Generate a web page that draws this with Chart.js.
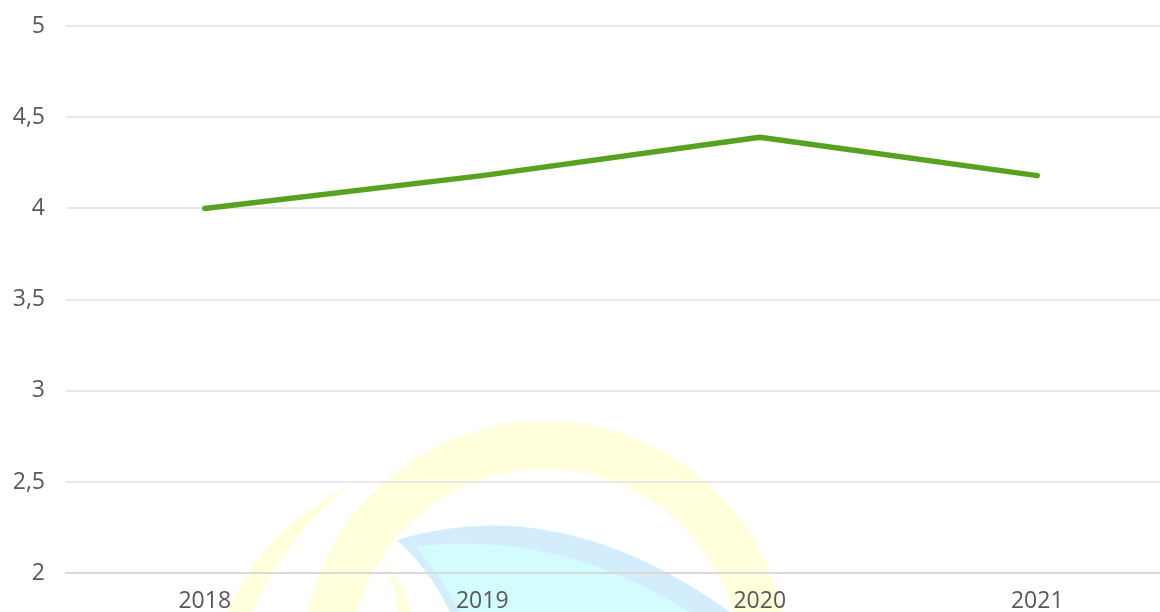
<!DOCTYPE html>
<html>
<head>
<meta charset="utf-8">
<script src="https://cdn.jsdelivr.net/npm/chart.js@4"></script>
<style>
    html, body { margin: 0; padding: 0; background: #fff; overflow: hidden; }
    #wrap { position: relative; width: 1176px; height: 629px; }
</style>
</head>
<body>
<div id="wrap"><canvas id="chart"></canvas></div>
<script>
// Chart data
const years = ['2018', '2019', '2020', '2021'];
const values = [4.0, 4.18, 4.39, 4.18];
const yTicks = [2, 2.5, 3, 3.5, 4, 4.5, 5];

// Faint logo behind the plot
const watermark = {
    id: 'watermark',
    beforeDraw(chart) {
        const ctx = chart.ctx;
        ctx.save();
        // big yellow ring
        ctx.fillStyle = 'rgba(255, 255, 205, 0.7)';
        ctx.beginPath();
        ctx.arc(545, 664, 243, 0, Math.PI * 2);
        ctx.arc(545, 664, 195, 0, Math.PI * 2, true);
        ctx.fill();
        // left yellow arc
        ctx.beginPath();
        ctx.moveTo(352, 484);
        ctx.quadraticCurveTo(260, 530, 228, 612);
        ctx.lineTo(252, 612);
        ctx.quadraticCurveTo(290, 530, 352, 484);
        ctx.fill();
        // small inner yellow stroke
        ctx.beginPath();
        ctx.moveTo(385, 563);
        ctx.quadraticCurveTo(405, 585, 410, 612);
        ctx.lineTo(398, 612);
        ctx.quadraticCurveTo(395, 585, 385, 563);
        ctx.fill();
        // blue leaf
        ctx.fillStyle = 'rgba(205, 234, 252, 0.85)';
        ctx.beginPath();
        ctx.moveTo(397, 540);
        ctx.quadraticCurveTo(560, 490, 730, 612);
        ctx.lineTo(450, 612);
        ctx.quadraticCurveTo(430, 570, 397, 540);
        ctx.fill();
        ctx.fillStyle = 'rgba(210, 255, 255, 0.85)';
        ctx.beginPath();
        ctx.moveTo(415, 546);
        ctx.quadraticCurveTo(560, 530, 690, 612);
        ctx.lineTo(460, 612);
        ctx.quadraticCurveTo(440, 575, 415, 546);
        ctx.fill();
        ctx.restore();
    }
};

document.addEventListener('DOMContentLoaded', function() {
    const ctx = document.getElementById('chart').getContext('2d');
    const tickFont = { family: '"Open Sans"', size: 23 };
    new Chart(ctx, {
        type: 'line',
        data: {
            labels: years,
            datasets: [{
                data: values,
                borderColor: '#58a21f',
                borderWidth: 5.5,
                borderCapStyle: 'round',
                borderJoinStyle: 'round',
                pointRadius: 0,
                tension: 0,
                fill: false
            }]
        },
        options: {
            responsive: true,
            maintainAspectRatio: false,
            animation: false,
            layout: { padding: { top: 26, left: 0, right: 0, bottom: 0 } },
            plugins: {
                legend: { display: false },
                tooltip: { enabled: false }
            },
            scales: {
                x: {
                    offset: true,
                    grid: { display: false, drawTicks: false },
                    border: { color: '#d9d9d9', width: 2 },
                    ticks: {
                        color: '#595959',
                        font: tickFont,
                        padding: 14
                    }
                },
                y: {
                    min: 2,
                    max: 5,
                    afterBuildTicks: axis => { axis.ticks = yTicks.map(v => ({ value: v })); },
                    afterFit: axis => {
                        axis.width = 66;
                        axis.paddingTop = 0;
                        axis.paddingBottom = 0;
                    },
                    grid: { color: '#e8e8e8', lineWidth: 2, drawTicks: false },
                    border: { display: false },
                    ticks: {
                        color: '#595959',
                        font: tickFont,
                        padding: 21,
                        callback: v => String(v).replace('.', ',')
                    }
                }
            }
        },
        plugins: [watermark]
    });
});
</script>
</body>
</html>
